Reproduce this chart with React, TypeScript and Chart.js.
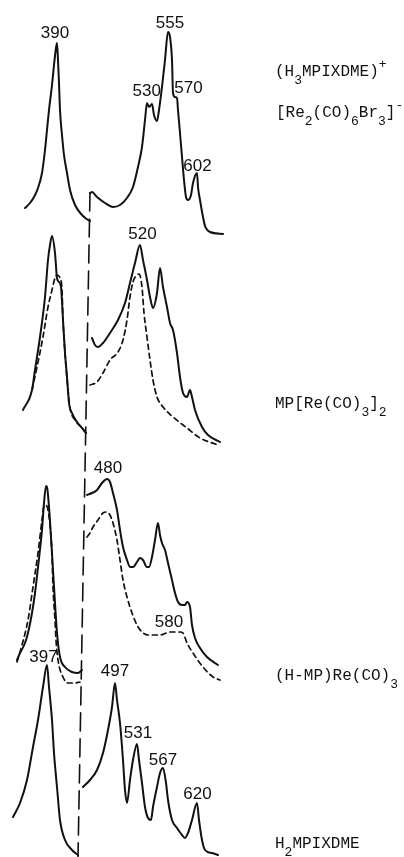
import React, { useEffect, useRef } from "react";
import { Chart, registerables } from "chart.js";

Chart.register(...registerables);

type Pt = [number, number]; // [wavelength nm, relative absorbance]

// Panel 1: (H3MPIXDME)+ [Re2(CO)6Br3]-
const p1SolidLeft: Pt[] = [
  [344.5, 0.32], [352, 0.37], [358, 0.43], [364, 0.52], [370, 0.67], [374.5, 0.9], [377.5, 1.1],
  [380.5, 1.3], [385, 1.55], [388, 1.75], [391, 1.92], [392.5, 1.97], [394, 1.8], [395.5, 1.57],
  [397, 1.3], [400, 1.05], [403, 0.85], [407.5, 0.67], [412, 0.5], [419.5, 0.35], [430, 0.25],
  [439, 0.2], [442, 0.19],
];
const p1SolidRight: Pt[] = [
  [442, 0.47], [445, 0.48], [452.5, 0.43], [464.5, 0.37], [476.5, 0.33], [487, 0.35], [497.5, 0.42],
  [506.5, 0.53], [514, 0.73], [520, 0.93], [524.5, 1.2], [527.5, 1.37], [530.5, 1.33], [535, 1.36],
  [538, 1.25], [542.5, 1.19], [545.5, 1.3], [550, 1.53], [554.5, 1.8], [559, 2.08], [562, 2.03],
  [565, 1.8], [566.5, 1.47], [569.5, 1.43], [572.5, 1.42], [574, 1.3], [577, 1.07], [580, 0.83],
  [583, 0.6], [586, 0.43], [589, 0.4], [593.5, 0.45], [596.5, 0.57], [602.5, 0.67], [604, 0.53],
  [607, 0.4], [611.5, 0.23], [614.5, 0.14], [622, 0.08], [641.5, 0.06],
];

// Panel 2: MP[Re(CO)3]2
const p2SolidLeft: Pt[] = [
  [344.5, 0.4], [358, 0.6], [362.5, 0.8], [370, 1.13], [377.5, 1.53], [382, 1.9], [385, 2.05],
  [388, 2.14], [392.5, 1.97], [395.5, 1.72], [398.5, 1.68], [401.5, 1.63], [404.5, 1.3],
  [407.5, 0.97], [410.5, 0.73], [413.5, 0.47], [418, 0.37], [425.5, 0.28], [433, 0.22], [439, 0.17],
];
const p2DashedLeft: Pt[] = [
  [358, 0.6], [365.5, 0.83], [374.5, 1.13], [382, 1.43], [388, 1.6], [392.5, 1.72], [395.5, 1.75],
  [400, 1.72], [403, 1.6], [404.5, 1.3], [407.5, 0.97], [412, 0.6], [415, 0.42], [422.5, 0.3],
  [433, 0.22], [439, 0.17],
];
const p2SolidRight: Pt[] = [
  [448, 1.12], [452.5, 1.05], [457, 1.03], [464.5, 1.07], [475, 1.17], [487, 1.3], [497.5, 1.47],
  [505, 1.67], [512.5, 1.87], [520, 2.05], [524.5, 1.9], [530.5, 1.7], [535, 1.53], [539.5, 1.42],
  [545.5, 1.57], [550, 1.82], [554.5, 1.63], [560.5, 1.43], [565, 1.27], [569.5, 1.2],
  [575.5, 0.97], [580, 0.73], [584.5, 0.57], [590.5, 0.53], [595, 0.6], [598, 0.53], [602.5, 0.4],
  [613, 0.23], [622, 0.15], [640, 0.08],
];
const p2DashedRight: Pt[] = [
  [445, 0.65], [455.5, 0.68], [464.5, 0.77], [475, 0.9], [487, 0.98], [494.5, 1.1], [500.5, 1.3],
  [505, 1.53], [509.5, 1.68], [515.5, 1.75], [518.5, 1.76], [523, 1.63], [526, 1.37], [530.5, 1.13],
  [535, 0.9], [539.5, 0.7], [545.5, 0.53], [554.5, 0.43], [569.5, 0.33], [590.5, 0.22], [610, 0.12],
  [637, 0.05],
];

// Panel 3: (H-MP)Re(CO)3
const p3SolidLeft: Pt[] = [
  [344.5, 0.3], [349, 0.37], [356.5, 0.47], [361, 0.57], [367, 0.77], [371.5, 0.97], [376, 1.23],
  [382, 1.6], [385, 1.87], [388, 2.04], [389.5, 2.03], [392.5, 1.83], [395.5, 1.53], [398.5, 1.2],
  [401.5, 0.87], [404.5, 0.57], [409, 0.33], [416.5, 0.23], [427, 0.18], [436, 0.17], [442, 0.2],
];
const p3DashedLeft: Pt[] = [
  [344.5, 0.28], [352, 0.45], [361, 0.7], [368.5, 1.03], [376, 1.37], [382, 1.7], [385, 1.84],
  [388, 1.85], [391, 1.8], [394, 1.65], [397, 1.35], [398.5, 1.03], [401.5, 0.7], [403, 0.5],
  [406, 0.3], [413.5, 0.13], [421, 0.07], [431.5, 0.07], [439, 0.08],
];
const p3SolidRight: Pt[] = [
  [449.5, 1.95], [457, 1.97], [464.5, 2.0], [472, 2.07], [479.5, 2.11], [484, 2.08], [488.5, 1.97],
  [494.5, 1.8], [499, 1.6], [503.5, 1.43], [509.5, 1.3], [514, 1.23], [518.5, 1.23], [524.5, 1.28],
  [529, 1.32], [533.5, 1.3], [539.5, 1.23], [542.5, 1.23], [547, 1.33], [551.5, 1.5], [556, 1.67],
  [559, 1.55], [562, 1.47], [566.5, 1.4], [571, 1.27], [577, 1.1], [581.5, 0.97], [586, 0.88],
  [592, 0.85], [596.5, 0.85], [599.5, 0.88], [604, 0.83], [607, 0.65], [611.5, 0.52], [619, 0.42],
  [629.5, 0.33], [646, 0.25],
];
const p3DashedRight: Pt[] = [
  [449.5, 1.53], [454, 1.57], [458.5, 1.63], [466, 1.7], [473.5, 1.77], [479.5, 1.78], [484, 1.75],
  [488.5, 1.67], [494.5, 1.5], [499, 1.3], [503.5, 1.1], [509.5, 0.93], [517, 0.77], [524.5, 0.65],
  [532, 0.58], [541, 0.55], [559, 0.55], [574, 0.58], [589, 0.58], [593.5, 0.57], [599.5, 0.47],
  [608.5, 0.37], [623.5, 0.23], [638.5, 0.13], [649, 0.1],
];

// Panel 4: H2MPIXDME
const p4SolidLeft: Pt[] = [
  [344.5, 0.4], [355, 0.54], [365.5, 0.77], [374.5, 1.1], [382, 1.37], [389.5, 1.7], [395.5, 1.92],
  [398.5, 1.7], [403, 1.37], [406, 1.04], [410.5, 0.7], [415, 0.37], [422.5, 0.17], [433, 0.07],
  [442, 0.02],
];
const p4SolidRight: Pt[] = [
  [449.5, 0.7], [460, 0.77], [470.5, 0.87], [479.5, 1.04], [487, 1.27], [493, 1.5], [497.5, 1.74],
  [500.5, 1.57], [505, 1.34], [509.5, 0.97], [512.5, 0.67], [515.5, 0.54], [520, 0.77], [524.5, 0.97],
  [530.5, 1.13], [533.5, 0.97], [538, 0.74], [542.5, 0.5], [547, 0.39], [551.5, 0.37], [554.5, 0.5],
  [560.5, 0.7], [565, 0.84], [569.5, 0.89], [574, 0.74], [577, 0.57], [583, 0.37], [590.5, 0.29],
  [598, 0.22], [602.5, 0.19], [607, 0.24], [613, 0.37], [620.5, 0.54], [623.5, 0.37], [628, 0.17],
  [632.5, 0.07], [643, 0.04], [652, 0.02],
];

// stacking of the four spectra
const panelOffset = [6.17, 4.07, 1.67, 0];
const panelShift = [3, 0, -9, -15];

// the dashed vertical line separating the two scan ranges (absolute plot coords)
const splitLine: Pt[] = [[445, 6.64], [427, 0]];

// peak labels: [text, panel, nm, absorbance]
const peakLabels: [string, number, number, number][] = [
  ["390", 0, 389.5, 2.07],
  ["555", 0, 562, 2.17],
  ["530", 0, 527, 1.485],
  ["570", 0, 589.75, 1.515],
  ["602", 0, 603.25, 0.74],
  ["520", 1, 523.75, 2.155],
  ["480", 2, 481, 2.22],
  ["580", 2, 572.5, 0.68],
  ["397", 3, 390.25, 1.995],
  ["497", 3, 497.5, 1.855],
  ["531", 3, 532, 1.24],
  ["567", 3, 569.5, 0.97],
  ["620", 3, 621.25, 0.63],
];

// compound labels: segments [text, script] where script: 0 normal, 1 subscript, -1 superscript
type Seg = [string, number];
const compoundLabels: { x: number; y: number; segs: Seg[] }[] = [
  { x: 275, y: 76, segs: [["(H", 0], ["3", 1], ["MPIXDME)", 0], ["+", -1]] },
  { x: 276, y: 117, segs: [["[Re", 0], ["2", 1], ["(CO)", 0], ["6", 1], ["Br", 0], ["3", 1], ["]", 0], ["-", -1]] },
  { x: 275, y: 408, segs: [["MP[Re(CO)", 0], ["3", 1], ["]", 0], ["2", 1]] },
  { x: 275, y: 680, segs: [["(H-MP)Re(CO)", 0], ["3", 1]] },
  { x: 275, y: 848, segs: [["H", 0], ["2", 1], ["MPIXDME", 0]] },
];

const INK = "#111";

function toXY(pts: Pt[], panel: number) {
  return pts.map(([nm, a]) => ({ x: nm + panelShift[panel], y: a + panelOffset[panel] }));
}

function lineDs(pts: Pt[], panel: number, dashed: boolean) {
  return {
    data: toXY(pts, panel),
    borderColor: INK,
    borderWidth: dashed ? 1.7 : 2,
    borderDash: dashed ? [5, 4] : [],
    pointRadius: 0,
    cubicInterpolationMode: "monotone" as const,
    fill: false,
  };
}

const labelPlugin = {
  id: "labels",
  afterDatasetsDraw(chart: any) {
    const ctx = chart.ctx as CanvasRenderingContext2D;
    const xs = chart.scales.x;
    const ys = chart.scales.y;
    ctx.save();
    ctx.fillStyle = INK;
    ctx.font = "17px 'Liberation Sans', Arial, sans-serif";
    ctx.textAlign = "center";
    ctx.textBaseline = "middle";
    for (const [t, p, nm, a] of peakLabels) {
      const px = xs.getPixelForValue(nm + panelShift[p]);
      const py = ys.getPixelForValue(a + panelOffset[p]);
      ctx.fillText(t, px, py);
    }
    ctx.textAlign = "left";
    ctx.textBaseline = "alphabetic";
    for (const lab of compoundLabels) {
      let cx = lab.x;
      for (const [t, s] of lab.segs) {
        ctx.font = s === 0 ? "16px 'Liberation Mono', monospace" : "13px 'Liberation Mono', monospace";
        const dy = s === 1 ? 8 : s === -1 ? -8 : 0;
        ctx.fillText(t, cx, lab.y + dy);
        cx += ctx.measureText(t).width;
      }
    }
    ctx.restore();
  },
};

export default function App() {
  const ref = useRef<HTMLCanvasElement>(null);
  useEffect(() => {
    if (!ref.current) return;
    const datasets: any[] = [
      lineDs(p1SolidLeft, 0, false),
      lineDs(p1SolidRight, 0, false),
      lineDs(p2SolidLeft, 1, false),
      lineDs(p2DashedLeft, 1, true),
      lineDs(p2SolidRight, 1, false),
      lineDs(p2DashedRight, 1, true),
      lineDs(p3SolidLeft, 2, false),
      lineDs(p3DashedLeft, 2, true),
      lineDs(p3SolidRight, 2, false),
      lineDs(p3DashedRight, 2, true),
      lineDs(p4SolidLeft, 3, false),
      lineDs(p4SolidRight, 3, false),
      {
        data: splitLine.map(([x, y]) => ({ x, y })),
        borderColor: INK,
        borderWidth: 1.6,
        borderDash: [18, 8],
        pointRadius: 0,
        tension: 0,
        fill: false,
      },
    ];
    const chart = new Chart(ref.current, {
      type: "line",
      data: { datasets },
      options: {
        animation: false,
        responsive: false,
        devicePixelRatio: 1,
        layout: { padding: 0 },
        plugins: { legend: { display: false }, tooltip: { enabled: false } },
        elements: { line: { borderCapStyle: "round", borderJoinStyle: "round" } },
        scales: {
          x: { type: "linear", min: 310, max: 916, display: false },
          y: { type: "linear", min: 0, max: 8.57, display: false },
        },
        clip: false as any,
      } as any,
      plugins: [labelPlugin],
    });
    return () => chart.destroy();
  }, []);
  return (
    <div style={{ position: "absolute", left: 0, top: 0, width: 404, height: 857, background: "#fff" }}>
      <canvas ref={ref} width={404} height={857} style={{ display: "block" }} />
    </div>
  );
}
